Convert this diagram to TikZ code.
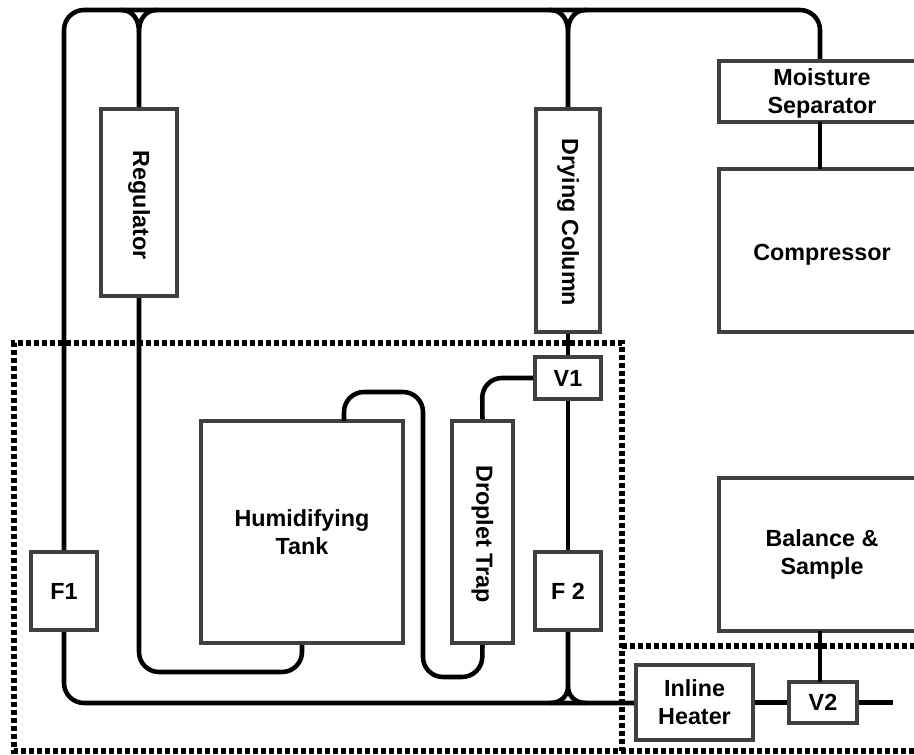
\documentclass[tikz,border=0pt]{standalone}
\usepackage{fontspec}
\setmainfont{Liberation Sans}
\definecolor{boxgray}{HTML}{404040}
\newcommand{\pushdown}[2]{\raisebox{0pt}[\dimexpr\height+#1\relax]{#2}}
\tikzset{
  boxa/.style={draw=boxgray,line width=3pt,fill=white,inner sep=0pt,align=center,font=\bfseries\fontsize{17.5}{21}\selectfont,text=black},
  pipe/.style={draw=black,line width=3.4pt,rounded corners=15pt},
  fillet/.style={draw=black,line width=3.4pt},
  fence/.style={draw=black,line width=4pt,dash pattern=on 3.6pt off 2.4pt},
}
\begin{document}
\begin{tikzpicture}[x=0.75pt,y=-0.75pt]
\useasboundingbox (0,0) rectangle (914,755);
% dotted enclosures
\coordinate (fa) at (14,343);
\coordinate (fb) at (622,343);
\coordinate (fc) at (622,751);
\coordinate (fd) at (14,751);
\coordinate (fe) at (914,751);
\coordinate (ff) at (622,646);
\coordinate (fg) at (914,646);
\draw[fence] (fe) -- (fd) -- (fa) -- (fb) -- (fc);
\draw[fence] (ff) -- (fg);
% main loop and links are drawn first, so that the boxes sit over the pipe ends
\draw[pipe] (64,552) -- (64,10) -- (820,10) -- (820,61);
\draw[pipe] (64,630) -- (64,703) -- (636,703);
\draw[fillet] (139,109) -- (139,32) .. controls (139,20) and (133,10) .. (121,10);
\draw[fillet] (139,32) .. controls (139,20) and (145,10) .. (157,10);
\draw[fillet] (568,109) -- (568,32) .. controls (568,20) and (562,10) .. (550,10);
\draw[fillet] (568,32) .. controls (568,20) and (574,10) .. (586,10);
\draw[fillet] (568,630) -- (568,686) .. controls (568,695) and (562,703) .. (550,703);
\draw[fillet] (568,686) .. controls (568,695) and (574,703) .. (586,703);
% components
\def\bx#1#2#3#4#5{\node[boxa,minimum width=(#4-#2)*0.75pt,minimum height=(#5-#3)*0.75pt] (#1) at ({(#2+#4)/2},{(#3+#5)/2})}
\bx{reg}{101}{109}{177}{296}{\rotatebox{-90}{\hspace*{4pt}Regulator}};
\bx{dry}{536}{109}{600}{332}{\rotatebox{-90}{\hspace*{3pt}Drying Column}};
\bx{sep}{719}{61}{925}{122}{\pushdown{3pt}{\begin{tabular}{@{}c@{}}Moisture\\Separator\end{tabular}}};
\bx{comp}{719}{169}{925}{332}{\pushdown{6pt}{Compressor}};
\bx{bal}{719}{478}{925}{631}{Balance \&\\Sample};
\bx{vone}{535}{357}{601}{399}{V1};
\bx{trap}{452}{421}{513}{643}{\rotatebox{-90}{\hspace*{3pt}Droplet Trap}};
\bx{tank}{201}{421}{403}{643}{Humidifying\\Tank};
\bx{fone}{31}{552}{97}{630}{F1};
\bx{ftwo}{535}{552}{601}{630}{F 2};
\bx{heat}{636}{665}{753}{740}{Inline\\Heater};
\bx{vtwo}{789}{682}{857}{723}{V2};
\coordinate (out) at (893,702.5);
% straight links
\draw[pipe] (820,122) -- (820,169);
\draw[pipe] (dry.south) -- (vone.north);
\draw[pipe] (vone.south) -- (ftwo.north);
\draw[pipe] (820,631) -- (820,682);
\draw[pipe] (heat.east) -- (vtwo.west);
\draw[pipe] (vtwo.east) -- (out);
% tank and trap loops
\draw[pipe] (reg.south) -- (139,672) -- (302,672) -- (tank.south -| 302,643);
\draw[pipe] (344,421) -- (344,392) -- (423,392) -- (423,677) -- (482,677) -- (trap.south);
\draw[pipe] (trap.north) -- (482,378) -- (vone.west);
\end{tikzpicture}
\end{document}
